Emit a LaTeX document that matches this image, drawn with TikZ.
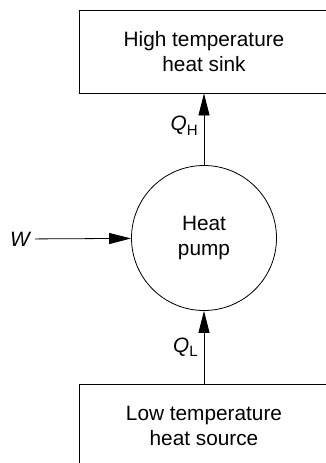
\documentclass[tikz,border=0pt]{standalone}
\usepackage{fontspec}
\setmainfont{Liberation Sans}
\usetikzlibrary{arrows.meta}

\newcommand{\subbawah}[1]{\raisebox{-4.5pt}{\fontsize{15}{15}\selectfont #1}}

\begin{document}
\begin{tikzpicture}[x=1pt,y=-1pt,
      teks/.style={align=center,font=\fontsize{20.8}{25}\selectfont},
      kotak/.style={teks,draw,line width=0.9pt,minimum width=250pt,minimum height=83pt},
      pompa/.style={teks,draw,circle,line width=0.8pt,minimum size=145pt},
      label/.style={font=\fontsize{20.8}{25}\selectfont,inner sep=6pt},
      panah/.style={line width=0.8pt,-{Triangle[length=22pt,width=11pt]}}]

    \useasboundingbox (0,0) rectangle (325,463);

    % --- Reservoir panas di atas dan sumber dingin di bawah -----------------
    \node[kotak] (sink) at (204,51.5) {High temperature\\heat sink};
    \node[kotak] (source) at (204,425.5) {Low temperature\\heat source};

    % --- Pompa kalor di tengah ---------------------------------------------
    \node[pompa] (pump) at (204,238) {Heat\\pump};

    % --- Kerja masuk dari kiri ---------------------------------------------
    \node[label,inner sep=5pt] (work) at (20,239) {\itshape W};

    % --- Panah --------------------------------------------------------------
    \draw[panah] (work) -- (pump);
    \draw[panah] (pump) -- node[label,left,pos=0.55] (qh)
      {{\itshape Q}\subbawah{H}} (sink);
    \draw[panah] (source) -- node[label,left,pos=0.5] (ql)
      {{\itshape Q}\subbawah{L}} (pump);
  \end{tikzpicture}
\end{document}
